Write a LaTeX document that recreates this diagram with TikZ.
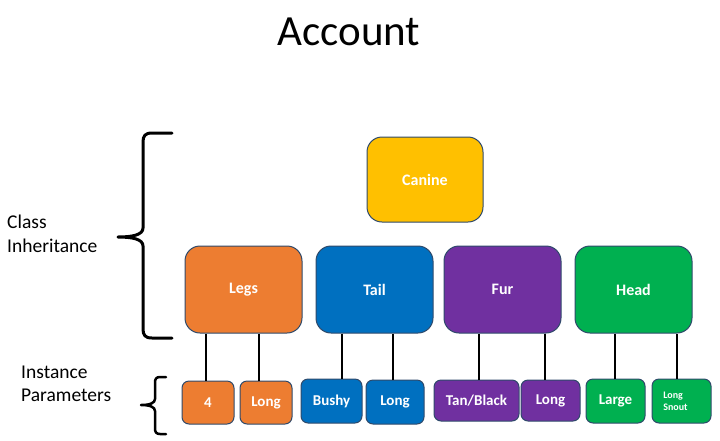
\documentclass[tikz,border=0pt]{standalone}
\usepackage{fontspec}
\setmainfont{Carlito}
\definecolor{cgold}{HTML}{FFC000}
\definecolor{corange}{HTML}{ED7D31}
\definecolor{cblue}{HTML}{0070C0}
\definecolor{cpurple}{HTML}{7030A0}
\definecolor{cgreen}{HTML}{00B050}
\definecolor{cedge}{HTML}{2F4A6B}
\begin{document}
\begin{tikzpicture}[x=1pt,y=-1pt,
  bigbox/.style={draw=cedge, line width=1pt, rounded corners=15pt, text=white,
    font=\fontsize{16}{18}\selectfont\bfseries, minimum width=117pt, minimum height=87pt, inner sep=0pt},
  smallbox/.style={draw=cedge, line width=1pt, rounded corners=7pt, text=white,
    font=\fontsize{15}{17}\selectfont\bfseries, minimum height=43pt, inner sep=0pt},
  link/.style={draw=black, line width=2pt},
  bracepath/.style={draw=black, line width=3pt, line cap=round, line join=round},
  sidelabel/.style={font=\fontsize{19.5}{24}\selectfont, align=left, anchor=north west, inner sep=0pt}
]
\useasboundingbox (0,0) rectangle (720,440);

\node[font=\fontsize{43}{50}\selectfont, anchor=base] (title) at (349,45) {Account};

% class boxes
\node[bigbox, fill=cgold, minimum width=116pt, minimum height=85pt] (canine) at (425,179.5) {Canine};
\node[bigbox, fill=corange] (legs) at (243.5,289.5) {Legs};
\node[bigbox, fill=cblue] (tail) at (374.5,289.5) {Tail};
\node[bigbox, fill=cpurple] (fur) at (502.5,289.5) {Fur};
\node[bigbox, fill=cgreen] (head) at (633.5,289.5) {Head};

% instance boxes
\node[smallbox, fill=corange, minimum width=52pt] (four) at (208,402.5) {4};
\node[smallbox, fill=corange, minimum width=52pt] (longa) at (266,402.5) {Long};
\node[smallbox, fill=cblue, minimum width=61pt, minimum height=44pt] (bushy) at (331.5,401) {Bushy};
\node[smallbox, fill=cblue, minimum width=58pt, minimum height=44pt] (longb) at (395,402) {Long};
\node[smallbox, fill=cpurple, minimum width=85pt, minimum height=41pt] (tan) at (476.5,400.5) {Tan/Black};
\node[smallbox, fill=cpurple, minimum width=59pt, minimum height=41pt] (longc) at (550.5,400.5) {Long};
\node[smallbox, fill=cgreen, minimum width=59pt, minimum height=44pt] (large) at (615.5,401) {Large};
\node[smallbox, fill=cgreen, minimum width=59pt, minimum height=44pt, align=left,
  font=\fontsize{10}{12}\selectfont\bfseries] (snout) at (681.5,401) {Long\\Snout\hspace*{12pt}};

% connectors
\draw[link] ([xshift=-2pt]four.north |- legs.south) -- ([xshift=-2pt]four.north);
\draw[link] ([xshift=-7pt]longa.north |- legs.south) -- ([xshift=-7pt]longa.north);
\draw[link] ([xshift=10.5pt]bushy.north |- tail.south) -- ([xshift=10.5pt]bushy.north);
\draw[link] ([xshift=-2pt]longb.north |- tail.south) -- ([xshift=-2pt]longb.north);
\draw[link] ([xshift=2.5pt]tan.north |- fur.south) -- ([xshift=2.5pt]tan.north);
\draw[link] ([xshift=-5.5pt]longc.north |- fur.south) -- ([xshift=-5.5pt]longc.north);
\draw[link] ([xshift=-0.5pt]large.north |- head.south) -- ([xshift=-0.5pt]large.north);
\draw[link] ([xshift=-4.5pt]snout.north |- head.south) -- ([xshift=-4.5pt]snout.north);

% braces
\draw[bracepath] (172,133) -- (152,133) .. controls (145,133) and (143,136) .. (143,142)
  -- (143,228) .. controls (143,235) and (132,237) .. (118,237)
  .. controls (132,237) and (143,239) .. (143,246)
  -- (143,329) .. controls (143,335) and (145,338) .. (152,338) -- (172,338);
\draw[bracepath, line width=2.5pt] (166,377) -- (160,377) .. controls (156,377) and (155,379) .. (155,383)
  -- (155,399) .. controls (155,403) and (150,405) .. (141,405)
  .. controls (150,405) and (155,407) .. (155,411)
  -- (155,428) .. controls (155,432) and (156,434) .. (160,434) -- (166,434);

% side labels
\node[sidelabel] (classlbl) at (7,215) {Class\\Inheritance};
\node[sidelabel, font=\fontsize{19.5}{23}\selectfont] (instlbl) at (21,366) {Instance\\Parameters};
\end{tikzpicture}
\end{document}
